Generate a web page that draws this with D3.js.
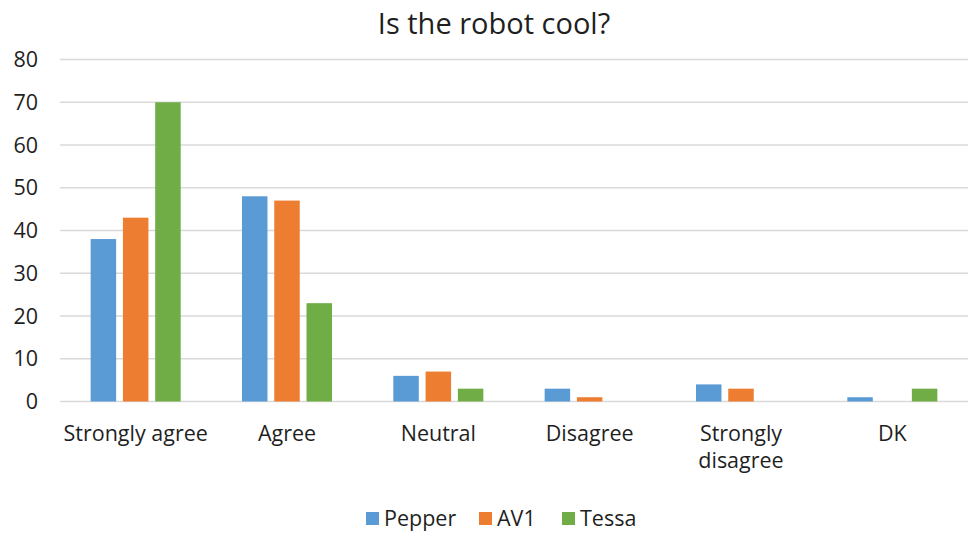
<!DOCTYPE html>
<html>
<head>
<meta charset="utf-8">
<script src="https://cdn.jsdelivr.net/npm/d3@7"></script>
<style>
  body { margin: 0; background: #fff; }
  text { font-family: "Open Sans", "Noto Sans", sans-serif; fill: #1f1f1f; }
</style>
</head>
<body>
<div id="chart"></div>
<script>
// data
var categories = ["Strongly agree", "Agree", "Neutral", "Disagree", "Strongly disagree", "DK"];
var seriesNames = ["Pepper", "AV1", "Tessa"];
var pepper = [38, 48, 6, 3, 4, 1];
var av1 = [43, 47, 7, 1, 3, 0];
var tessa = [70, 23, 3, 0, 0, 3];
var yTicks = [0, 10, 20, 30, 40, 50, 60, 70, 80];

var colors = ["#5b9bd5", "#ed7d31", "#70ad47"];
var values = [pepper, av1, tessa];

var width = 969, height = 533;
var margin = {top: 59.5, right: 1, bottom: 132, left: 60};

var svg = d3.select("#chart").append("svg")
  .attr("width", width)
  .attr("height", height);

var x = d3.scaleBand()
  .domain(categories)
  .range([margin.left, width - margin.right])
  .paddingInner(0)
  .paddingOuter(0);

var x1 = d3.scaleBand()
  .domain(seriesNames)
  .range([0, x.bandwidth()])
  .paddingInner(0.21)
  .paddingOuter(0.95);

var y = d3.scaleLinear()
  .domain([0, 80])
  .range([height - margin.bottom + 0.5, margin.top]);

// gridlines
svg.append("g")
  .selectAll("line")
  .data(yTicks)
  .enter()
  .append("line")
  .attr("x1", margin.left)
  .attr("x2", width - margin.right)
  .attr("y1", function(d) { return y(d); })
  .attr("y2", function(d) { return y(d); })
  .style("stroke", "#d9d9d9")
  .style("stroke-width", 1.5);

// y labels
svg.append("g")
  .selectAll("text")
  .data(yTicks)
  .enter()
  .append("text")
  .attr("x", 38)
  .attr("y", function(d) { return y(d); })
  .attr("dy", "0.35em")
  .attr("text-anchor", "end")
  .style("font-size", "21.5px")
  .text(function(d) { return d; });

// bars
var groups = svg.append("g")
  .selectAll("g")
  .data(categories)
  .enter()
  .append("g")
  .attr("transform", function(d) { return "translate(" + x(d) + ",0)"; });

groups.selectAll("rect")
  .data(function(d, i) {
    return seriesNames.map(function(s, j) { return {s: s, v: values[j][i], c: colors[j]}; });
  })
  .enter()
  .append("rect")
  .attr("x", function(d) { return x1(d.s); })
  .attr("width", x1.bandwidth())
  .attr("y", function(d) { return y(d.v); })
  .attr("height", function(d) { return y(0) - y(d.v); })
  .style("fill", function(d) { return d.c; });

// x labels
var xl = svg.append("g")
  .selectAll("text")
  .data(categories)
  .enter()
  .append("text")
  .attr("x", function(d) { return x(d) + x.bandwidth() / 2; })
  .attr("text-anchor", "middle")
  .style("font-size", "21.5px");

xl.each(function(d) {
  var t = d3.select(this);
  var lines = d == "Strongly disagree" ? ["Strongly", "disagree"] : [d];
  lines.forEach(function(l, i) {
    t.append("tspan")
      .attr("x", x(d) + x.bandwidth() / 2)
      .attr("y", 441 + i * 27)
      .text(l);
  });
});

// title
svg.append("text")
  .attr("x", 494)
  .attr("y", 34)
  .attr("text-anchor", "middle")
  .style("font-size", "29px")
  .text("Is the robot cool?");

// legend
var legendX = [366, 479, 562];
var legend = svg.append("g")
  .selectAll("g")
  .data(seriesNames)
  .enter()
  .append("g")
  .attr("transform", function(d, i) { return "translate(" + legendX[i] + ",512)"; });

legend.append("rect")
  .attr("width", 13)
  .attr("height", 13)
  .style("fill", function(d, i) { return colors[i]; });

legend.append("text")
  .attr("x", 18)
  .attr("y", 6.5)
  .attr("dy", "0.35em")
  .style("font-size", "21.5px")
  .text(function(d) { return d; });
</script>
</body>
</html>
